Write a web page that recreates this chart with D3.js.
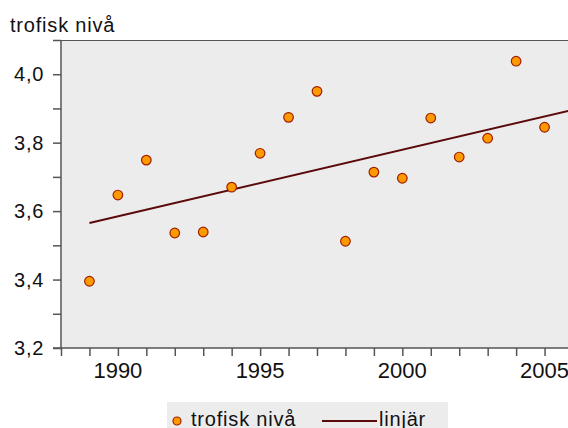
<!DOCTYPE html>
<html lang="sv">
<head>
  <meta charset="UTF-8">
  <title>trofisk niva</title>
  <script src="https://d3js.org/d3.v7.min.js"></script>
  <style>
    body { margin: 0; padding: 0; background: #fff; }
    svg { display: block; font-family: "Liberation Sans", Arial, sans-serif; }
  </style>
</head>
<body>
  <div id="chart"></div>
<script>
  // data
  const years = [1989, 1990, 1991, 1992, 1993, 1994, 1995, 1996, 1997, 1998, 1999, 2000, 2001, 2002, 2003, 2004, 2005]
  const trofisk = [3.395, 3.647, 3.749, 3.536, 3.539, 3.670, 3.769, 3.874, 3.950, 3.512, 3.714, 3.696, 3.872, 3.758, 3.813, 4.038, 3.845]
  // linjär trend, endpoints
  const trendYears = [1989, 2006]
  const trendValues = [3.565, 3.896]
  const yTicks = [3.2, 3.4, 3.6, 3.8, 4.0]
  const xTicks = [1990, 1995, 2000, 2005]

  const width = 568, height = 428
  const margin = { top: 40, right: -5, bottom: 80, left: 61 }

  const svg = d3.select('#chart').append('svg')
    .attr('width', width).attr('height', height)

  const x = d3.scaleLinear().domain([1988, 2006]).range([margin.left, width - margin.right])
  const y = d3.scaleLinear().domain([3.2, 4.1]).range([height - margin.bottom, margin.top])

  const fmt = d => d3.format('.1f')(d).replace('.', ',')

  // plot background
  svg.append('rect')
    .attr('x', margin.left).attr('y', margin.top)
    .attr('width', width - margin.right - margin.left)
    .attr('height', y(3.2) - margin.top)
    .attr('fill', '#ececec')
  svg.append('line')
    .attr('x1', margin.left).attr('x2', width)
    .attr('y1', margin.top + 0.5).attr('y2', margin.top + 0.5)
    .attr('stroke', '#555').attr('stroke-width', 1)

  // y axis
  const yAxis = svg.append('g')
    .attr('transform', `translate(${margin.left},0)`)
    .call(d3.axisLeft(y).tickValues(d3.range(3.2, 4.11, 0.1)).tickSize(8).tickFormat(''))
  yAxis.selectAll('line, path').attr('stroke', '#555').attr('stroke-width', 1.5)
  yAxis.select('.domain').attr('d', `M-8,${y(3.2)}H0V${margin.top}`)
  svg.append('g').selectAll('text')
    .data(yTicks).join('text')
    .attr('x', 44).attr('y', d => y(d) + 7)
    .attr('text-anchor', 'end')
    .attr('font-size', 20).attr('letter-spacing', 0.7).attr('fill', '#111')
    .text(fmt)

  // x axis
  const xAxis = svg.append('g')
    .attr('transform', `translate(0,${y(3.2)})`)
    .call(d3.axisBottom(x).tickValues(d3.range(1988, 2007)).tickSize(8).tickFormat(''))
  xAxis.selectAll('line, path').attr('stroke', '#555').attr('stroke-width', 1.5)
  xAxis.select('.domain').attr('d', `M${margin.left},0H${width}`)
  svg.append('g').selectAll('text')
    .data(xTicks).join('text')
    .attr('x', d => x(d)).attr('y', y(3.2) + 30)
    .attr('text-anchor', 'middle')
    .attr('font-size', 22).attr('fill', '#111')
    .text(d => d)

  // title
  svg.append('text')
    .attr('x', 10).attr('y', 32)
    .attr('font-size', 20).attr('letter-spacing', 0.8).attr('fill', '#111')
    .text('trofisk nivå')

  // trend line
  svg.append('line')
    .attr('x1', x(trendYears[0])).attr('y1', y(trendValues[0]))
    .attr('x2', x(trendYears[1])).attr('y2', y(trendValues[1]))
    .attr('stroke', '#5a0a0a').attr('stroke-width', 2)

  // points
  svg.append('g').selectAll('circle')
    .data(years).join('circle')
    .attr('cx', d => x(d))
    .attr('cy', (d, i) => y(trofisk[i]))
    .attr('r', 4.8)
    .attr('fill', '#ff9900')
    .attr('stroke', '#a01e00').attr('stroke-width', 1.2)

  // legend
  const lg = svg.append('g')
  lg.append('rect')
    .attr('x', 167).attr('y', 402).attr('width', 281).attr('height', 30)
    .attr('fill', '#ececec')
  lg.append('circle')
    .attr('cx', 177).attr('cy', 421).attr('r', 4)
    .attr('fill', '#ff9900').attr('stroke', '#a01e00').attr('stroke-width', 1.2)
  lg.append('text')
    .attr('x', 191).attr('y', 426)
    .attr('font-size', 20).attr('letter-spacing', 0.8).attr('fill', '#111')
    .text('trofisk nivå')
  lg.append('line')
    .attr('x1', 322).attr('x2', 377).attr('y1', 421).attr('y2', 421)
    .attr('stroke', '#5a0a0a').attr('stroke-width', 2)
  lg.append('text')
    .attr('x', 379).attr('y', 426)
    .attr('font-size', 20).attr('letter-spacing', 0.8).attr('fill', '#111')
    .text('linjär')
</script>
</body>
</html>
